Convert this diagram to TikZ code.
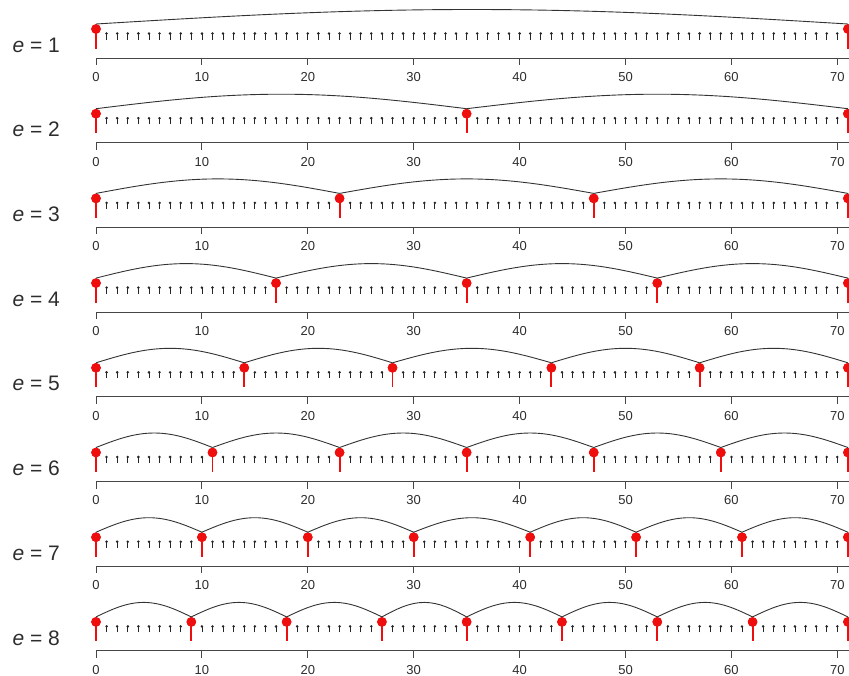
\documentclass[tikz,border=0pt]{standalone}
\usepackage{fontspec}
\setmainfont{Liberation Sans}
\usetikzlibrary{calc}
\definecolor{pinred}{RGB}{238,14,14}
\definecolor{axisgray}{RGB}{70,70,70}
\definecolor{labgray}{RGB}{45,45,45}
\begin{document}
\begin{tikzpicture}[x=1pt,y=-1pt,
  redpin/.style={circle,fill=pinred,draw=none,inner sep=0pt,minimum size=9.6pt},
  redstem/.style={draw=pinred,line width=1.9pt},
  minipin/.style={draw=black!85,line width=0.8pt},
  minidot/.style={fill=black!85},
  arcline/.style={draw=black!80,line width=0.9pt},
  axisline/.style={draw=axisgray,line width=1pt},
  ticklab/.style={font=\fontsize{13}{13}\selectfont,text=labgray,inner sep=0pt},
  elabel/.style={font=\fontsize{21}{21}\selectfont,text=labgray,inner sep=0pt}]
\useasboundingbox (0,0) rectangle (849,675);
\foreach \r/\segs in {1/{0/71},2/{0/35,35/71},3/{0/23,23/47,47/71},
  4/{0/17,17/35,35/53,53/71},5/{0/14,14/28,28/43,43/57,57/71},
  6/{0/11,11/23,23/35,35/47,47/59,59/71},
  7/{0/10,10/20,20/30,30/41,41/51,51/61,61/71},
  8/{0/9,9/18,18/27,27/35,35/44,44/53,53/62,62/71}}{
  \begin{scope}[xshift=96pt,yshift={(1-\r)*84.7pt},x=10.59pt,y=-1pt]
    % label
    \node[elabel] (lab\r) at (-5.64,45) {\textit{e} = \r};
    % axis
    \coordinate (ax\r-s) at (0,58);
    \coordinate (ax\r-e) at (71.3,58);
    \draw[axisline] (ax\r-s) -- (ax\r-e);
    \foreach \t in {0,10,...,70}{
      \coordinate (tk\r-\t) at (\t,58);
      \coordinate (tb\r-\t) at (\t,65);
      \draw[axisline] (tk\r-\t) -- (tb\r-\t);
      \node[ticklab] (tl\r-\t) at (\t,77) {\t};
    }
    % black mini pins between red ones
    \foreach \a/\b in \segs{
      \pgfmathtruncatemacro\lo{\a+1}
      \pgfmathtruncatemacro\hi{\b-1}
      \foreach \i in {\lo,...,\hi}{
        \coordinate (mb\r-\i) at (\i,39.5);
        \coordinate (mt\r-\i) at (\i,33.5);
        \draw[minipin] (mb\r-\i) -- (mt\r-\i);
        \fill[minidot] (mt\r-\i) circle (1.4pt);
      }
      % red pin at \a
      \coordinate (rb\r-\a) at (\a,48.5);
      \node[redpin] (p\r-\a) at (\a,29) {};
      \draw[redstem] (p\r-\a.center) -- (rb\r-\a);
      \node[redpin] at (p\r-\a) {};
    }
    \coordinate (rb\r-71) at (71,48.5);
    \node[redpin] (p\r-71) at (71,29) {};
    \draw[redstem] (p\r-71.center) -- (rb\r-71);
    \node[redpin] at (p\r-71) {};
    % arcs
    \foreach \a/\b in \segs{
      \draw[arcline] (p\r-\a.north) sin ($(p\r-\a.north)!0.5!(p\r-\b.north)+(0,-14.5)$) cos (p\r-\b.north);
    }
  \end{scope}
}
\end{tikzpicture}
\end{document}
